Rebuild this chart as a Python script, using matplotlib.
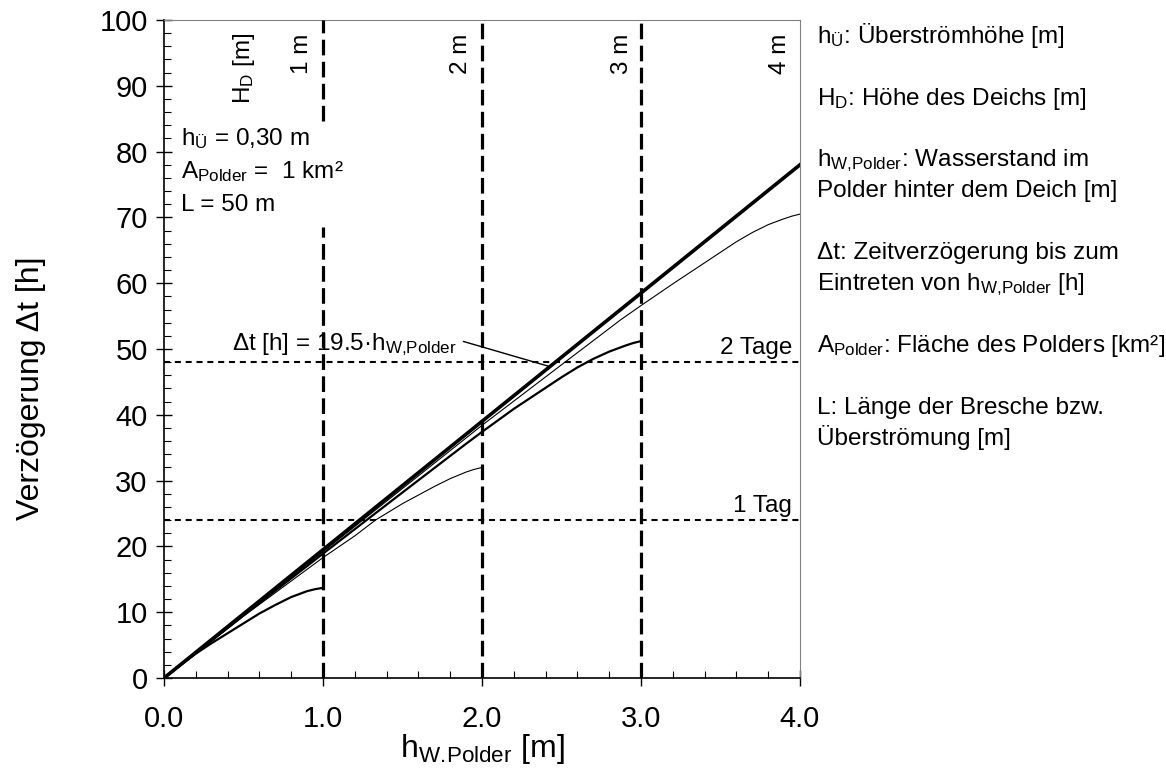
import numpy as np
import matplotlib
matplotlib.use('Agg')
import matplotlib.pyplot as plt
from matplotlib.ticker import MultipleLocator, FormatStrFormatter

plt.rcParams['font.family'] = ['Liberation Sans', 'DejaVu Sans']
plt.rcParams['mathtext.fontset'] = 'custom'
plt.rcParams['mathtext.rm'] = 'Liberation Sans'
plt.rcParams['mathtext.it'] = 'Liberation Sans:italic'
plt.rcParams['mathtext.bf'] = 'Liberation Sans:bold'

# linear relation dt = 19.5 * h
hw_lin = [0.0, 4.0]
dt_lin = [0.0, 78.0]

# dike height 1 m
hw_1 = [0.0, 0.1, 0.2, 0.3, 0.4, 0.5, 0.6, 0.7, 0.8, 0.9, 0.95, 1.0]
dt_1 = [0.0, 1.9, 3.7, 5.3, 6.8, 8.3, 9.8, 11.1, 12.3, 13.2, 13.5, 13.7]

# dike height 2 m
hw_2 = [0.0, 0.5, 1.0, 1.2, 1.33, 1.5, 1.6, 1.7, 1.8, 1.9, 1.95, 2.0]
dt_2 = [0.0, 9.4, 18.3, 21.6, 24.0, 26.5, 27.8, 29.1, 30.3, 31.3, 31.7, 32.0]

# dike height 3 m
hw_3 = [0.0, 0.5, 1.0, 1.5, 1.9, 2.0, 2.2, 2.4, 2.5, 2.6, 2.7, 2.8, 2.9, 2.95, 3.0]
dt_3 = [0.0, 9.5, 18.9, 28.2, 35.6, 37.4, 40.9, 44.1, 45.7, 47.2, 48.5, 49.6, 50.5, 50.9, 51.2]

# dike height 4 m
hw_4 = [0.0, 0.5, 1.0, 2.0, 2.5, 2.87, 3.0, 3.2, 3.4, 3.6, 3.7, 3.8, 3.9, 3.95, 4.0]
dt_4 = [0.0, 9.6, 19.2, 38.4, 47.6, 54.4, 56.6, 59.9, 63.1, 66.3, 67.7, 68.9, 69.8, 70.2, 70.5]

# dike heights (vertical dashed lines) and their drawn extents
hd_x = [1.0, 2.0, 3.0]
hd_segments = [[(0, 68.6), (84.6, 100)], [(0, 100)], [(0, 100)]]
hd_labels = ['1 m', '2 m', '3 m', '4 m']
hd_label_x = [0.866, 1.867, 2.878, 3.874]

day_hours = [24, 48]
day_labels = ['1 Tag', '2 Tage']

info_lines = [r'h$_\mathrm{Ü}$ = 0,30 m',
              r'A$_\mathrm{Polder}$ =  1 km²',
              'L = 50 m']

legend_lines = [r'h$_\mathrm{Ü}$: Überströmhöhe [m]',
                '',
                r'H$_\mathrm{D}$: Höhe des Deichs [m]',
                '',
                r'h$_\mathrm{W{,}Polder}$: Wasserstand im',
                'Polder hinter dem Deich [m]',
                '',
                'Δt: Zeitverzögerung bis zum',
                r'Eintreten von h$_\mathrm{W{,}Polder}$ [h]',
                '',
                r'A$_\mathrm{Polder}$: Fläche des Polders [km²]',
                '',
                'L: Länge der Bresche bzw.',
                'Überströmung [m]']

fig = plt.figure(figsize=(11.66, 7.78), dpi=100)
ax = fig.add_axes([164 / 1166, 1 - 678 / 778, 636 / 1166, 658 / 778])

ax.plot(hw_lin, dt_lin, color='black', lw=2.6, zorder=5)
ax.plot(hw_1, dt_1, color='black', lw=1.6, zorder=4)
ax.plot(hw_2, dt_2, color='black', lw=0.8, zorder=4)
ax.plot(hw_3, dt_3, color='black', lw=1.6, zorder=4)
ax.plot(hw_4, dt_4, color='black', lw=0.8, zorder=4)

for x, segs in zip(hd_x, hd_segments):
    for y0, y1 in segs:
        ax.plot([x, x], [y0, y1], color='black', lw=2.3,
                linestyle=(0, (4.9, 2.0)), zorder=3)

for hrs, lab in zip(day_hours, day_labels):
    ax.plot([0, 4], [hrs, hrs], color='black', lw=1.5,
            linestyle=(0, (2.9, 2.3)), zorder=2)
    ax.text(3.95, hrs + 1.3, lab, ha='right', va='baseline', fontsize=17.5)

ax.text(0.506, 98, r'H$_\mathrm{D}$ [m]', rotation=90, ha='center', va='top', fontsize=17.5)
for x, lab in zip(hd_label_x, hd_labels):
    ax.text(x, 98, lab, rotation=90, ha='center', va='top', fontsize=17.5)

for i, s in enumerate(info_lines):
    ax.text(0.11, 81.0 - 5.0 * i, s, ha='left', va='baseline', fontsize=17.5)

ax.annotate(r'Δt [h] = 19.5·h$_\mathrm{W{,}Polder}$', xy=(2.43, 47.3), xytext=(1.84, 49.8),
            ha='right', va='baseline', fontsize=17.5,
            arrowprops=dict(arrowstyle='-', color='black', lw=1.0,
                            shrinkA=3, shrinkB=0, relpos=(1.0, 0.7)))

for i, s in enumerate(legend_lines):
    if s:
        fig.text(816.7 / 1166, 1 - (43 + 30.9 * i) / 778, s,
                 ha='left', va='baseline', fontsize=17.5)

ax.set_xlim(0, 4)
ax.set_ylim(0, 100)
ax.xaxis.set_major_locator(MultipleLocator(1))
ax.xaxis.set_minor_locator(MultipleLocator(0.2))
ax.xaxis.set_major_formatter(FormatStrFormatter('%.1f'))
ax.yaxis.set_major_locator(MultipleLocator(10))
ax.yaxis.set_minor_locator(MultipleLocator(2))

ax.tick_params(which='major', direction='inout', length=11.5, width=1, labelsize=21)
ax.tick_params(which='minor', direction='in', length=5, width=0.8)
ax.tick_params(axis='x', which='major', pad=14)
ax.tick_params(axis='y', which='major', pad=6)
ax.tick_params(top=False, right=False, which='both')

for side in ['top', 'right']:
    ax.spines[side].set_color('#808080')
for side in ['left', 'bottom']:
    ax.spines[side].set_color('black')
    ax.spines[side].set_linewidth(1.2)

ax.set_xlabel(r'h$_\mathrm{W.\!Polder}$ [m]', fontsize=23)
ax.xaxis.set_label_coords(0.5, -0.082)
ax.set_ylabel('Verzögerung Δt [h]', fontsize=23)
ax.yaxis.set_label_coords(-0.186, 0.44)

fig.savefig('out.png', dpi=100)
